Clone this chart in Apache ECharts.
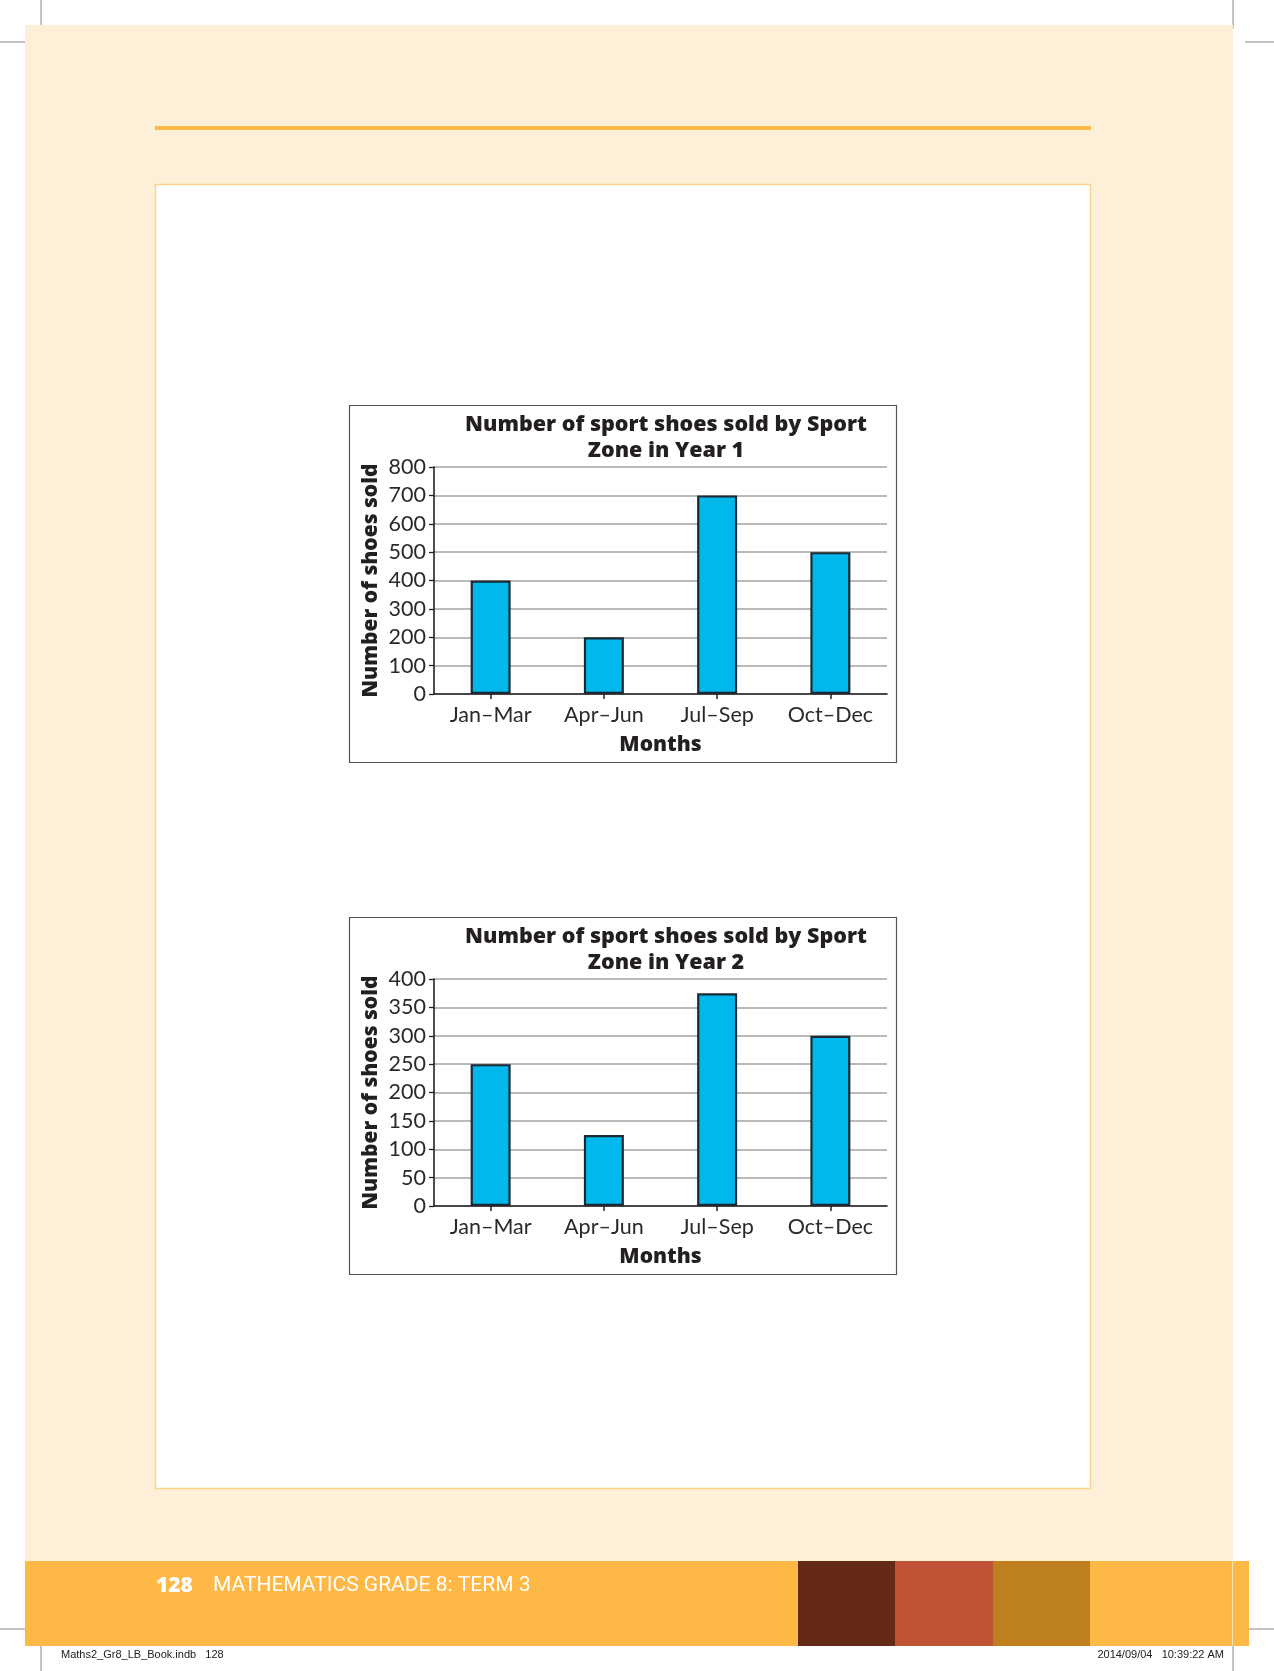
<!DOCTYPE html>
<html>
<head>
<meta charset="utf-8">
<style>
  html, body { margin: 0; padding: 0; background: #ffffff; }
  #chart { width: 1274px; height: 1671px; }
</style>
<script src="https://cdn.jsdelivr.net/npm/echarts@6/dist/echarts.min.js"></script>
</head>
<body>
<div id="chart"></div>
<script>
// ---- data ----
const categories = ['Jan–Mar', 'Apr–Jun', 'Jul–Sep', 'Oct–Dec'];
const year1Values = [400, 200, 700, 500];
const year2Values = [250, 125, 375, 300];
const year1Ticks = { min: 0, max: 800, interval: 100 };
const year2Ticks = { min: 0, max: 400, interval: 50 };
const title1 = 'Number of sport shoes sold by Sport\nZone in Year 1';
const title2 = 'Number of sport shoes sold by Sport\nZone in Year 2';
const xName = 'Months';
const yName = 'Number of shoes sold';
const footerPage = '128';
const footerTitle = 'MATHEMATICS GRADE 8: TERM 3';
const slugLeft = 'Maths2_Gr8_LB_Book.indb   128';
const slugRight = '2014/09/04   10:39:22 AM';

// ---- styles ----
const FONT = 'Lato, "Open Sans", sans-serif';
const BOLD = '"Open Sans", "Noto Sans", sans-serif';
const HEAVY = 800;
const INK = '#231f20';
const LABEL = '#2a2a2a';
const BAR_FILL = '#00b8ec';
const BAR_EDGE = '#1c2833';

const chart = echarts.init(document.getElementById('chart'), null, { renderer: 'canvas' });

function xAxisFor(gi) {
  return {
    type: 'category', gridIndex: gi, data: categories,
    axisLine: { show: true, lineStyle: { color: '#222', width: 1.6 } },
    axisTick: { show: true, alignWithLabel: true, length: 5, lineStyle: { color: '#222', width: 1.5 } },
    axisLabel: { margin: 10, fontSize: 21.5, color: LABEL, fontFamily: FONT },
    splitLine: { show: false },
    name: xName, nameLocation: 'middle', nameGap: 41,
    nameTextStyle: { fontSize: 21, fontWeight: HEAVY, color: INK, fontFamily: BOLD }
  };
}
function yAxisFor(gi, t) {
  return {
    type: 'value', gridIndex: gi, min: t.min, max: t.max, interval: t.interval,
    axisLine: { show: true, lineStyle: { color: '#222', width: 1.6 } },
    axisTick: { show: true, length: 5, lineStyle: { color: '#222', width: 1.3 } },
    axisLabel: { margin: 8, fontSize: 21.5, color: LABEL, fontFamily: FONT },
    splitLine: { show: true, lineStyle: { color: '#a3a3a3', width: 1.6 } },
    name: yName, nameLocation: 'middle', nameGap: 52,
    nameTextStyle: { fontSize: 21, fontWeight: HEAVY, color: INK, fontFamily: BOLD }
  };
}
function barSeries(gi, values) {
  return {
    type: 'bar', xAxisIndex: gi, yAxisIndex: gi, data: values, barWidth: 40,
    itemStyle: { color: BAR_FILL, borderColor: BAR_EDGE, borderWidth: 2.2 },
    silent: true
  };
}

const bg = [
  // page crop marks
  { type: 'line', z: -10, shape: { x1: 41, y1: 0, x2: 41, y2: 29 }, style: { stroke: '#888', lineWidth: 1 } },
  { type: 'line', z: -10, shape: { x1: 1233, y1: 0, x2: 1233, y2: 29 }, style: { stroke: '#888', lineWidth: 1 } },
  { type: 'line', z: -10, shape: { x1: 0, y1: 42, x2: 29, y2: 42 }, style: { stroke: '#888', lineWidth: 1 } },
  { type: 'line', z: -10, shape: { x1: 1245, y1: 42, x2: 1274, y2: 42 }, style: { stroke: '#888', lineWidth: 1 } },
  { type: 'line', z: -10, shape: { x1: 0, y1: 1629, x2: 29, y2: 1629 }, style: { stroke: '#888', lineWidth: 1 } },
  { type: 'line', z: -10, shape: { x1: 1245, y1: 1629, x2: 1274, y2: 1629 }, style: { stroke: '#888', lineWidth: 1 } },
  { type: 'line', z: -10, shape: { x1: 41, y1: 1641, x2: 41, y2: 1671 }, style: { stroke: '#888', lineWidth: 1 } },
  { type: 'line', z: -10, shape: { x1: 1233, y1: 1641, x2: 1233, y2: 1671 }, style: { stroke: '#888', lineWidth: 1 } },
  // cream page
  { type: 'rect', z: -10, shape: { x: 25, y: 25, width: 1208, height: 1536 }, style: { fill: '#fef0d8' } },
  // top orange rule
  { type: 'rect', z: -10, shape: { x: 155, y: 126, width: 936, height: 4 }, style: { fill: '#fdb845' } },
  // white panel
  { type: 'rect', z: -10, shape: { x: 155.5, y: 184.5, width: 935, height: 1304 }, style: { fill: '#ffffff', stroke: '#fcd28e', lineWidth: 1.5 } },
  // chart boxes
  { type: 'rect', z: -9, shape: { x: 349.5, y: 405.5, width: 547, height: 357 }, style: { fill: '#ffffff', stroke: '#555', lineWidth: 1.2 } },
  { type: 'rect', z: -9, shape: { x: 349.5, y: 917.5, width: 547, height: 357 }, style: { fill: '#ffffff', stroke: '#555', lineWidth: 1.2 } },
  // footer band
  { type: 'rect', z: -10, shape: { x: 25, y: 1561, width: 1224, height: 85 }, style: { fill: '#fdb845' } },
  { type: 'rect', z: -9, shape: { x: 798, y: 1561, width: 97, height: 85 }, style: { fill: '#652a17' } },
  { type: 'rect', z: -9, shape: { x: 895, y: 1561, width: 98, height: 85 }, style: { fill: '#c05236' } },
  { type: 'rect', z: -9, shape: { x: 993, y: 1561, width: 97, height: 85 }, style: { fill: '#be7f1e' } },
  { type: 'line', z: -9, shape: { x1: 1232.5, y1: 1561, x2: 1232.5, y2: 1646 }, style: { stroke: '#fde3b0', lineWidth: 1 } },
  // footer text
  { type: 'text', z: -8, style: { x: 156, y: 1586, text: footerPage, fill: '#ffffff', font: '800 21px ' + BOLD, verticalAlign: 'middle' } },
  { type: 'text', z: -8, style: { x: 213, y: 1586, text: footerTitle, fill: '#ffffff', font: '21px Roboto, sans-serif', verticalAlign: 'middle' } },
  { type: 'text', z: -8, style: { x: 61, y: 1655, text: slugLeft, fill: '#222', font: '11px "Liberation Sans Narrow", "Liberation Sans", sans-serif', verticalAlign: 'middle' } },
  { type: 'text', z: -8, style: { x: 1224, y: 1655, text: slugRight, fill: '#222', font: '11px "Liberation Sans Narrow", "Liberation Sans", sans-serif', verticalAlign: 'middle', align: 'right' } }
];

const option = {
  backgroundColor: '#ffffff',
  animation: false,
  title: [
    { text: title1, left: 661, top: 407, textAlign: 'center',
      textStyle: { fontSize: 21.5, fontWeight: HEAVY, color: INK, fontFamily: BOLD, lineHeight: 26 } },
    { text: title2, left: 661, top: 919, textAlign: 'center',
      textStyle: { fontSize: 21.5, fontWeight: HEAVY, color: INK, fontFamily: BOLD, lineHeight: 26 } }
  ],
  grid: [
    { left: 434, top: 467, width: 453, height: 227 },
    { left: 434, top: 979, width: 453, height: 227 }
  ],
  xAxis: [xAxisFor(0), xAxisFor(1)],
  yAxis: [yAxisFor(0, year1Ticks), yAxisFor(1, year2Ticks)],
  series: [barSeries(0, year1Values), barSeries(1, year2Values)],
  graphic: { elements: bg }
};
chart.setOption(option);
</script>
</body>
</html>
